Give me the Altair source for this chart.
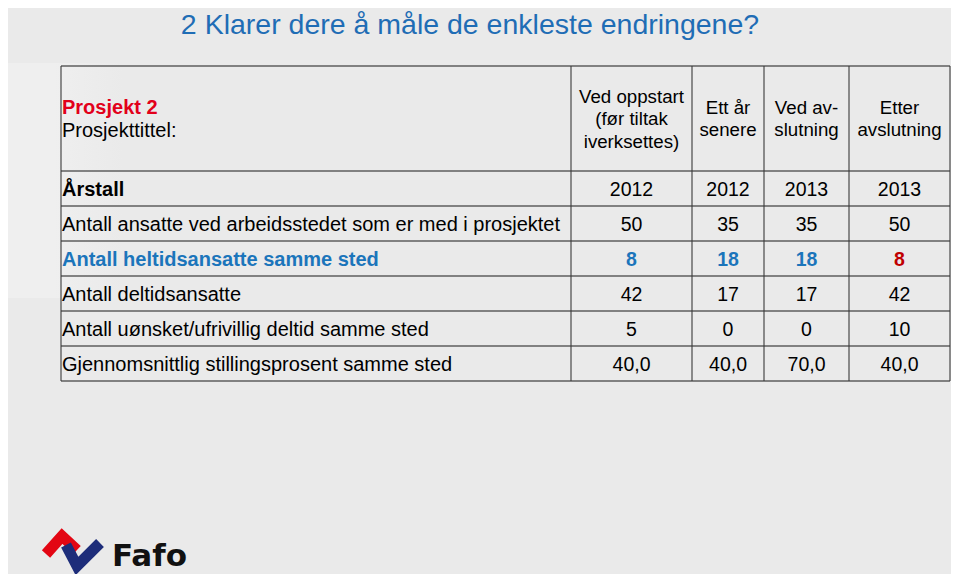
import altair as alt
import pandas as pd

# ---------------- data ----------------
title = "2 Klarer dere å måle de enkleste endringene?"
project_name = "Prosjekt 2"
project_title = "Prosjekttittel:"
columns = ["Ved oppstart\n(før tiltak\niverksettes)", "Ett år\nsenere", "Ved av-\nslutning", "Etter\navslutning"]
row_labels = [
    "Årstall",
    "Antall ansatte ved arbeidsstedet som er med i prosjektet",
    "Antall heltidsansatte samme sted",
    "Antall deltidsansatte",
    "Antall uønsket/ufrivillig deltid samme sted",
    "Gjennomsnittlig stillingsprosent samme sted",
]
values = [
    ["2012", "2012", "2013", "2013"],
    ["50", "35", "35", "50"],
    ["8", "18", "18", "8"],
    ["42", "17", "17", "42"],
    ["5", "0", "0", "10"],
    ["40,0", "40,0", "70,0", "40,0"],
]
logo_text = "Fafo"

# ---------------- layout / style ----------------
BG = "#EAEAEA"
BLUE_T = "#1F6DB5"
BLUE = "#1B75BB"
RED = "#E2001A"
DARK_RED = "#C00000"
FONT = "Liberation Sans"
col_edges = [61, 571, 692, 764, 849, 950]
top, head_bottom, row_h = 66, 171, 35
n_rows = len(row_labels)
row_edges = [top] + [head_bottom + row_h * i for i in range(n_rows + 1)]
bold_rows = {0: "#000000", 2: BLUE}
LH = 22.5

W, H = 943, 566
xs = alt.Scale(domain=[8, 8 + W], nice=False, zero=False)
ys = alt.Scale(domain=[8, 8 + H], nice=False, zero=False, reverse=True)

def X(f="x"):
    return alt.X(f"{f}:Q", scale=xs, axis=None)

def Y(f="y"):
    return alt.Y(f"{f}:Q", scale=ys, axis=None)

# grid lines
hl = pd.DataFrame({"x": col_edges[0], "x2": col_edges[-1], "y": row_edges})
vl = pd.DataFrame({"x": col_edges, "y": top, "y2": row_edges[-1]})

h_rules = alt.Chart(hl).mark_rule(color="#5E5E5E", strokeWidth=1.7).encode(
    x=X(), x2="x2:Q", y=Y())
v_rules = alt.Chart(vl).mark_rule(color="#3A3A3A", strokeWidth=1.1).encode(
    x=X(), y=Y(), y2="y2:Q")

# left glare
glare = alt.Chart(pd.DataFrame({"a": [0]})).mark_rect(
    color=alt.LinearGradient(
        gradient="linear", x1=0, x2=1, y1=0, y2=0,
        stops=[alt.GradientStop(color="#EFEFEF", offset=0),
               alt.GradientStop(color="#EFEFEF", offset=0.4),
               alt.GradientStop(color=BG, offset=1)])
).encode(x=alt.value(0), x2=alt.value(115), y=alt.value(55), y2=alt.value(290))

# cells
lab_rows, val_rows = [], []
for i, lab in enumerate(row_labels):
    yc = head_bottom + row_h * i + row_h / 2 + 1.5
    lab_rows.append({"x": col_edges[0] + 1, "y": yc, "t": lab,
                     "c": bold_rows.get(i, "#000000"), "b": i in bold_rows})
    for j, v in enumerate(values[i]):
        xc = (col_edges[j + 1] + col_edges[j + 2]) / 2
        c = "#000000"
        if i == 2:
            c = DARK_RED if j == 3 else BLUE
        val_rows.append({"x": xc, "y": yc, "t": v, "c": c, "b": i == 2})

head_y = (top + head_bottom) / 2 + 0.5
lab_rows.append({"x": col_edges[0] + 1, "y": head_y - 11.5, "t": project_name, "c": RED, "b": True})
lab_rows.append({"x": col_edges[0] + 1, "y": head_y + 11.5, "t": project_title, "c": "#000000", "b": False})
labdf = pd.DataFrame(lab_rows)
valdf = pd.DataFrame(val_rows)
headdf = pd.DataFrame({
    "x": [(col_edges[j + 1] + col_edges[j + 2]) / 2 for j in range(4)],
    "y": [head_y - (c.count("\n")) * LH / 2 for c in columns],
    "t": columns, "c": "#000000"})

def text_layer(df, align, bold, size):
    return alt.Chart(df).mark_text(
        align=align, baseline="middle", font=FONT, fontSize=size,
        fontWeight="bold" if bold else "normal", lineBreak="\n", lineHeight=LH
    ).encode(x=X(), y=Y(), text="t:N", color=alt.Color("c:N", scale=None))

labs_n = text_layer(labdf[~labdf.b], "left", False, 20)
labs_b = text_layer(labdf[labdf.b], "left", True, 20)
vals_n = text_layer(valdf[~valdf.b], "center", False, 19.5)
vals_b = text_layer(valdf[valdf.b], "center", True, 19.5)
heads = text_layer(headdf, "center", False, 18.7)

title_l = alt.Chart(pd.DataFrame({"x": [470], "y": [34], "t": [title]})).mark_text(
    align="center", baseline="alphabetic", font=FONT, fontSize=28.5, color=BLUE_T
).encode(x=X(), y=Y(), text="t:N")

# logo
logo_pts = pd.DataFrame({
    "x": [46, 62, 77, 66, 77, 100],
    "y": [554, 536, 550, 545, 566, 543],
    "g": ["r", "r", "r", "n", "n", "n"],
    "o": [0, 1, 2, 0, 1, 2],
})
logo = alt.Chart(logo_pts).mark_line(strokeWidth=11, strokeCap="butt", strokeJoin="miter").encode(
    x=X(), y=Y(), detail="g:N", order="o:Q",
    color=alt.Color("g:N", scale=alt.Scale(domain=["r", "n"], range=["#E30613", "#1D2D7A"]), legend=None))
logo_t = alt.Chart(pd.DataFrame({"x": [112], "y": [566], "t": [logo_text]})).mark_text(
    align="left", baseline="alphabetic", font="DejaVu Sans", fontSize=31, fontWeight="bold", color="#111111"
).encode(x=X(), y=Y(), text="t:N")

chart = alt.layer(glare, h_rules, v_rules, labs_n, labs_b, vals_n, vals_b, heads, title_l, logo, logo_t).properties(
    width=W, height=H, autosize=alt.AutoSizeParams(type="none"), padding=0, background=BG
).configure_view(stroke=None)

chart.save("out.html", embed_options={"renderer": "svg", "actions": False})
